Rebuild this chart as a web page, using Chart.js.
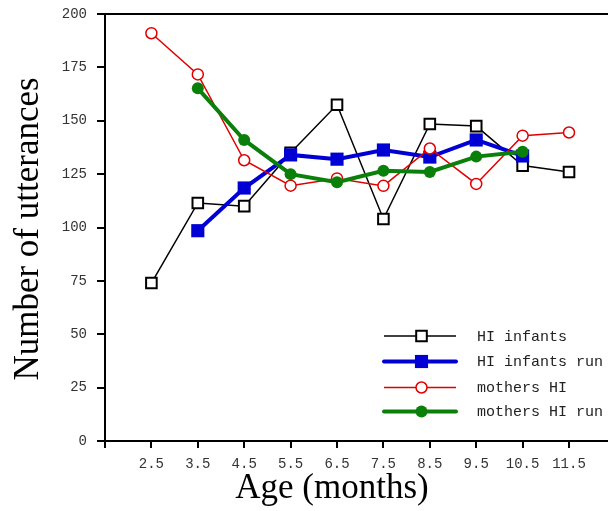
<!DOCTYPE html>
<html>
<head>
<meta charset="utf-8">
<title>Number of utterances by age</title>
<script src="https://cdn.jsdelivr.net/npm/chart.js@4/dist/chart.umd.min.js"></script>
<style>
	html, body { margin: 0; padding: 0; background: #fff; }
	canvas { display: block; }
</style>
</head>
<body>
<canvas id="chart" width="608" height="511"></canvas>
<script>
const ages = [2.5, 3.5, 4.5, 5.5, 6.5, 7.5, 8.5, 9.5, 10.5, 11.5];
const ageLabels = ['2.5', '3.5', '4.5', '5.5', '6.5', '7.5', '8.5', '9.5', '10.5', '11.5'];
const yTicks = [0, 25, 50, 75, 100, 125, 150, 175, 200];

const hiInfants = [74, 111.5, 110, 135, 157.5, 104, 148.5, 147.5, 129, 126];
const hiInfantsRun = [null, 98.5, 118.5, 134, 132, 136.3, 133, 141, 133.5, null];
const mothersHi = [191, 171.7, 131.5, 119.6, 123, 119.5, 137, 120.4, 143, 144.5];
const mothersHiRun = [null, 165.2, 141, 125, 121.2, 126.6, 126, 133.2, 135.5, null];

const seriesNames = ['HI infants', 'HI infants run', 'mothers HI', 'mothers HI run'];

function toPoints(values) {
	return values
		.map((value, index) => ({ x: ages[index], y: value }))
		.filter((point) => point.y !== null);
}

const styles = [
	{ color: '#000000', lineWidth: 1.5, pointStyle: 'rect', radius: 7.5, fill: '#ffffff', pointBorder: 2, order: 4 },
	{ color: '#0000d4', lineWidth: 4, pointStyle: 'rect', radius: 9.3, fill: '#0000d4', pointBorder: 0, order: 3 },
	{ color: '#e00000', lineWidth: 1.5, pointStyle: 'circle', radius: 5.5, fill: '#ffffff', pointBorder: 1.5, order: 2 },
	{ color: '#0a800a', lineWidth: 4, pointStyle: 'circle', radius: 6, fill: '#0a800a', pointBorder: 0, order: 1 }
];

const seriesValues = [hiInfants, hiInfantsRun, mothersHi, mothersHiRun];

const datasets = seriesValues.map((values, index) => {
	const style = styles[index];
	return {
		label: seriesNames[index],
		data: toPoints(values),
		borderColor: style.color,
		borderWidth: style.lineWidth,
		pointStyle: style.pointStyle,
		pointRadius: style.radius,
		pointBackgroundColor: style.fill,
		pointBorderColor: style.color,
		pointBorderWidth: style.pointBorder,
		tension: 0,
		order: style.order
	};
});

function drawMarker(ctx, style, x, y) {
	ctx.save();
	ctx.fillStyle = style.fill;
	ctx.strokeStyle = style.color;
	ctx.lineWidth = style.pointBorder;
	ctx.beginPath();
	if (style.pointStyle === 'rect') {
		const half = Math.SQRT1_2 * style.radius;
		ctx.rect(x - half, y - half, half * 2, half * 2);
	} else {
		ctx.arc(x, y, style.radius, 0, Math.PI * 2);
	}
	ctx.fill();
	if (style.pointBorder > 0) {
		ctx.stroke();
	}
	ctx.restore();
}

function noScalePadding(scale) {
	scale.paddingTop = 0;
	scale.paddingBottom = 0;
	scale.paddingLeft = 0;
	scale.paddingRight = 0;
}

const decorations = {
	id: 'decorations',
	afterDraw(chart) {
		const ctx = chart.ctx;
		const area = chart.chartArea;

		// top frame line and the little overhang at the origin
		ctx.save();
		ctx.strokeStyle = '#000';
		ctx.lineWidth = 2;
		ctx.beginPath();
		ctx.moveTo(area.left - 8, area.top);
		ctx.lineTo(chart.width, area.top);
		ctx.stroke();
		ctx.beginPath();
		ctx.moveTo(area.left - 8, area.bottom);
		ctx.lineTo(area.left, area.bottom);
		ctx.stroke();
		ctx.restore();

		// legend
		const rowY = [336, 361.5, 387.5, 411.5];
		ctx.save();
		ctx.font = '15px "Liberation Mono", monospace';
		ctx.textBaseline = 'middle';
		styles.forEach((style, index) => {
			const y = rowY[index];
			ctx.strokeStyle = style.color;
			ctx.lineWidth = style.lineWidth;
			ctx.lineCap = style.lineWidth > 2 ? 'round' : 'butt';
			ctx.beginPath();
			ctx.moveTo(384, y);
			ctx.lineTo(456, y);
			ctx.stroke();
			drawMarker(ctx, style, 421.5, y);
			ctx.fillStyle = '#222';
			ctx.fillText(seriesNames[index], 477, y + 1);
		});
		ctx.restore();

		// axis titles
		ctx.save();
		ctx.fillStyle = '#000';
		ctx.font = '35px "Liberation Serif", serif';
		ctx.textAlign = 'center';
		ctx.textBaseline = 'middle';
		ctx.fillText('Age (months)', 332, 489);
		ctx.translate(29, 229);
		ctx.rotate(-Math.PI / 2);
		ctx.fillText('Number of utterances', 0, 0);
		ctx.restore();
	}
};

const tickFont = { family: '"Liberation Mono", monospace', size: 14 };

new Chart(document.getElementById('chart').getContext('2d'), {
	type: 'line',
	data: { datasets },
	options: {
		responsive: false,
		animation: false,
		layout: { autoPadding: false, padding: { top: 14, left: 0, right: 0, bottom: 0 } },
		plugins: {
			legend: { display: false },
			tooltip: { enabled: false }
		},
		scales: {
			x: {
				type: 'linear',
				min: 1.5,
				max: 12.34,
				afterFit(scale) {
					scale.height = 70;
					noScalePadding(scale);
				},
				afterBuildTicks(scale) {
					scale.ticks = [{ value: 1.5 }].concat(ages.map((value) => ({ value })));
				},
				ticks: {
					autoSkip: false,
					maxRotation: 0,
					padding: 8,
					color: '#333',
					font: tickFont,
					callback(value) {
						const index = ages.indexOf(value);
						return index >= 0 ? ageLabels[index] : '';
					}
				},
				grid: { display: true, drawOnChartArea: false, drawTicks: true, tickLength: 7, color: '#000', lineWidth: 2 },
				border: { display: true, color: '#000', width: 2 }
			},
			y: {
				min: 0,
				max: 200,
				afterFit(scale) {
					scale.width = 105;
					noScalePadding(scale);
				},
				afterBuildTicks(scale) {
					scale.ticks = yTicks.map((value) => ({ value }));
				},
				ticks: {
					padding: 10,
					color: '#333',
					font: tickFont
				},
				grid: { display: true, drawOnChartArea: false, drawTicks: true, tickLength: 8, color: '#000', lineWidth: 2 },
				border: { display: true, color: '#000', width: 2 }
			}
		}
	},
	plugins: [decorations]
});
</script>
</body>
</html>
